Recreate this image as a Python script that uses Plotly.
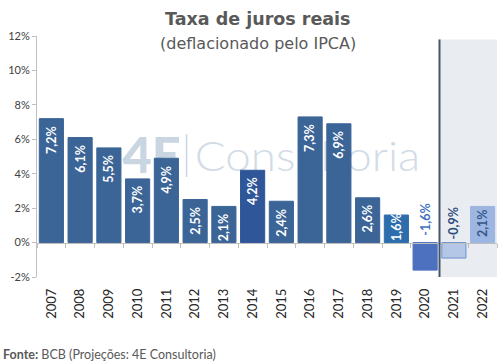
import base64
import plotly.graph_objects as go

# ---- data ----
years = [2007, 2008, 2009, 2010, 2011, 2012, 2013, 2014, 2015, 2016, 2017, 2018, 2019, 2020, 2021, 2022]
values = [7.2, 6.1, 5.5, 3.7, 4.9, 2.5, 2.1, 4.2, 2.4, 7.3, 6.9, 2.6, 1.6, -1.6, -0.9, 2.1]
y_tickvals = [-2, 0, 2, 4, 6, 8, 10, 12]
y_ticktext = ["-2%", "0%", "2%", "4%", "6%", "8%", "10%", "12%"]

# ---- styles ----
base = "#3B6497"
bar_colors = [base] * 7 + ["#2F5699"] + [base] * 4 + ["#2E6DAC", "#4E71BF", "#B4C7E7", "#9DB6E1"]
bar_line_colors = bar_colors[:14] + ["#6F91CD", "#9DB6E1"]
label_colors = ["white"] * 13 + ["#4472C4", "#2F4E7E", "#34568A"]
label_place = ["end"] * 12 + ["base", "base", "base", "end"]
label_shift = [-5] * 12 + [0, 5, 1, -1]

FONT = "Lato"
TFONT = "DejaVu Sans"

labels = [f"{v:.1f}".replace(".", ",") + "%" for v in values]

fig = go.Figure()

fig.add_trace(go.Bar(
    x=years, y=values,
    marker=dict(color=bar_colors, line=dict(color=bar_line_colors, width=1)),
    width=0.84, hoverinfo="skip", showlegend=False,
))

# dummy trace so the zero-line axis (x2) is drawn
fig.add_trace(go.Scatter(
    x=years, y=values, xaxis="x2", mode="markers",
    marker=dict(opacity=0), hoverinfo="skip", showlegend=False,
))

annotations = []
for yr, v, t, c, place, sh in zip(years, values, labels, label_colors, label_place, label_shift):
    if place == "end":
        annotations.append(dict(x=yr, y=v, xref="x", yref="y", text=f"<b>{t}</b>",
                                textangle=-90, yanchor="top", yshift=sh, showarrow=False,
                                font=dict(family=FONT, size=12.5, color=c)))
    else:
        annotations.append(dict(x=yr, y=0, xref="x", yref="y", text=f"<b>{t}</b>",
                                textangle=-90, yanchor="bottom", yshift=sh,
                                showarrow=False, font=dict(family=FONT, size=12.5, color=c)))

# title / subtitle / source
annotations += [
    dict(text="<b>Taxa de juros reais</b>", xref="paper", yref="paper", x=0.5, y=1,
         xshift=-9, yshift=17, showarrow=False, xanchor="center", yanchor="middle",
         font=dict(family=TFONT, size=17.5, color="#595959")),
    dict(text="(deflacionado pelo IPCA)", xref="paper", yref="paper", x=0.5, y=1,
         xshift=-9, yshift=-7, showarrow=False, xanchor="center", yanchor="middle",
         font=dict(family=TFONT, size=16, color="#595959")),
    dict(text="<b>Fonte:</b> BCB (Projeções: 4E Consultoria)", xref="paper", yref="paper",
         x=0, y=0, xshift=-36, yshift=-77, showarrow=False, xanchor="left", yanchor="middle",
         font=dict(family=FONT, size=12.5, color="#595959")),
]

# watermark
svg = ('<svg xmlns="http://www.w3.org/2000/svg" width="300" height="44" viewBox="0 0 300 44">'
       '<text x="2" y="40" font-family="Lato" font-weight="900" font-size="50" fill="#C9D6E2" '
       'textLength="58" lengthAdjust="spacingAndGlyphs">4E</text>'
       '<rect x="65" y="0" width="1.5" height="44" fill="#C9D6E2"/>'
       '<text x="74" y="38" font-family="Lato" font-weight="300" font-size="42" fill="#D2DCE7" '
       'textLength="224" lengthAdjust="spacingAndGlyphs">Consultoria</text>'
       '</svg>')
src = "data:image/svg+xml;base64," + base64.b64encode(svg.encode()).decode()

fig.update_layout(
    width=503, height=364,
    margin=dict(l=37, r=6, t=36, b=87),
    paper_bgcolor="white", plot_bgcolor="white",
    annotations=annotations,
    images=[dict(source=src, xref="x", yref="y", x=2009.4, y=6.3, sizex=10.5, sizey=2.5,
                 xanchor="left", yanchor="top", sizing="stretch", layer="below")],
    shapes=[
        dict(type="rect", xref="x", yref="y", x0=2020.5, x1=2022.5, y0=-2, y1=11.8,
             fillcolor="#E9EDF1", line=dict(width=0), layer="below"),
        dict(type="line", xref="x", yref="y", x0=2020.5, x1=2020.5, y0=-2.2, y1=11.8,
             line=dict(color="#44546A", width=2), layer="above"),
    ],
    xaxis=dict(range=[2006.5, 2022.5], tickmode="linear", tick0=2007, dtick=1,
               tickangle=-90, showline=False, showgrid=False, zeroline=False, ticks="",
               ticklabelstandoff=8,
               tickfont=dict(family=FONT, size=13, color="#262626")),
    xaxis2=dict(overlaying="x", anchor="free", position=2 / 14, range=[2006.5, 2022.5],
                tickmode="linear", tick0=2006.5, dtick=1, ticks="outside", ticklen=4,
                tickcolor="#BFBFBF", showline=True, linecolor="#BFBFBF", linewidth=1,
                showticklabels=False, showgrid=False, zeroline=False, side="bottom"),
    yaxis=dict(range=[-2, 12], tickvals=y_tickvals, ticktext=y_ticktext,
               showline=True, linecolor="#BFBFBF", ticks="outside", ticklen=4,
               tickcolor="#BFBFBF", showgrid=False, zeroline=False,
               tickfont=dict(family=FONT, size=11, color="#404040")),
)

fig.write_html("out.html", config={"displayModeBar": False},
               post_script="document.body.style.margin='0';")
